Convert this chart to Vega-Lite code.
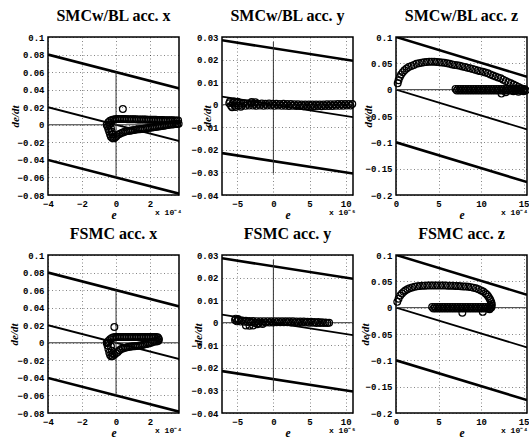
{
"$schema": "https://vega.github.io/schema/vega-lite/v6.json",
"background": "white",
"padding": {"left": 7, "top": 7, "right": 0, "bottom": 0},
"bounds": "flush",
"columns": 3,
"spacing": {"row": 60, "column": 43},
"datasets": {
"l1": [{"k":"b","id":"u","e":-4,"v":0.08},{"k":"b","id":"u","e":4,"v":0.04},{"k":"s","id":"s","e":-4,"v":0.02},{"k":"s","id":"s","e":4,"v":-0.02},{"k":"b","id":"l","e":-4,"v":-0.04},{"k":"b","id":"l","e":4,"v":-0.08},{"k":"a","id":"h","e":-4,"v":0},{"k":"a","id":"h","e":4,"v":0},{"k":"a","id":"vt","e":0,"v":0.06},{"k":"a","id":"vt","e":0,"v":-0.06}],
"l2": [{"k":"b","id":"u","e":-7.1,"v":0.02855},{"k":"b","id":"u","e":11,"v":0.0195},{"k":"s","id":"s","e":-7.1,"v":0.00355},{"k":"s","id":"s","e":11,"v":-0.0055},{"k":"b","id":"l","e":-7.1,"v":-0.02145},{"k":"b","id":"l","e":11,"v":-0.0305},{"k":"a","id":"h","e":-7.1,"v":0},{"k":"a","id":"h","e":11,"v":0},{"k":"a","id":"vt","e":0,"v":0.0278},{"k":"a","id":"vt","e":0,"v":-0.0305}],
"l3": [{"k":"b","id":"u","e":0,"v":0.1},{"k":"b","id":"u","e":15.4,"v":0.0245},{"k":"s","id":"s","e":0,"v":0},{"k":"s","id":"s","e":15.4,"v":-0.0755},{"k":"b","id":"l","e":0,"v":-0.1},{"k":"b","id":"l","e":15.4,"v":-0.1755},{"k":"a","id":"h","e":0,"v":0},{"k":"a","id":"h","e":15.4,"v":0}],
"p1": [{"e":0.4,"v":0.018},
{"e":-0.45,"v":0.003},{"e":-0.35,"v":0.0045},{"e":-0.25,"v":0.0055},{"e":-0.15,"v":0.006},{"e":-0.05,"v":0.0062},{"e":0.05,"v":0.0065},{"e":0.15,"v":0.0066},{"e":0.25,"v":0.0066},{"e":0.35,"v":0.0066},{"e":0.45,"v":0.0065},{"e":0.55,"v":0.0065},{"e":0.65,"v":0.0064},{"e":0.75,"v":0.0064},{"e":0.85,"v":0.0063},{"e":0.95,"v":0.0063},{"e":1.05,"v":0.0062},{"e":1.15,"v":0.0062},{"e":1.25,"v":0.0061},{"e":1.35,"v":0.0061},{"e":1.45,"v":0.006},{"e":1.55,"v":0.006},{"e":1.65,"v":0.0059},{"e":1.75,"v":0.0059},{"e":1.85,"v":0.0058},{"e":1.95,"v":0.0058},{"e":2.05,"v":0.0057},{"e":2.15,"v":0.0057},{"e":2.25,"v":0.0056},{"e":2.35,"v":0.0056},{"e":2.45,"v":0.0055},{"e":2.55,"v":0.0055},{"e":2.65,"v":0.0054},{"e":2.75,"v":0.0054},{"e":2.85,"v":0.0053},{"e":2.95,"v":0.0053},{"e":3.05,"v":0.0052},{"e":3.15,"v":0.0052},{"e":3.25,"v":0.0051},{"e":3.35,"v":0.0051},{"e":3.45,"v":0.005},{"e":3.55,"v":0.005},{"e":3.65,"v":0.005},
{"e":-0.55,"v":0.0},{"e":-0.5,"v":-0.002},{"e":-0.45,"v":-0.005},{"e":-0.4,"v":-0.008},{"e":-0.35,"v":-0.011},{"e":-0.3,"v":-0.0135},{"e":-0.22,"v":-0.0152},{"e":-0.14,"v":-0.0155},{"e":-0.06,"v":-0.0145},{"e":0.02,"v":-0.013},{"e":0.1,"v":-0.0115},{"e":0.2,"v":-0.0105},{"e":0.3,"v":-0.0095},{"e":0.4,"v":-0.0087},{"e":0.5,"v":-0.008},{"e":0.6,"v":-0.0075},{"e":0.7,"v":-0.007},{"e":0.8,"v":-0.0067},{"e":0.9,"v":-0.0064},{"e":1.0,"v":-0.0061},{"e":1.1,"v":-0.0058},{"e":1.2,"v":-0.0055},{"e":1.3,"v":-0.0052},{"e":1.4,"v":-0.005},{"e":1.5,"v":-0.0048},{"e":1.6,"v":-0.0045},{"e":1.7,"v":-0.0043},{"e":1.8,"v":-0.004},{"e":1.9,"v":-0.0038},{"e":2.0,"v":-0.0035},{"e":2.1,"v":-0.0032},{"e":2.2,"v":-0.0029},{"e":2.3,"v":-0.0026},{"e":2.4,"v":-0.0023},{"e":2.5,"v":-0.002},{"e":2.6,"v":-0.0017},{"e":2.7,"v":-0.0013},{"e":2.8,"v":-0.001},{"e":2.9,"v":-0.0007},{"e":3.0,"v":-0.0004},{"e":3.1,"v":-0.0001},{"e":3.2,"v":0.0002},{"e":3.3,"v":0.0004},{"e":3.4,"v":0.0006},{"e":3.5,"v":0.0008},{"e":3.6,"v":0.001},{"e":3.68,"v":0.0012},
{"e":-0.4,"v":0.0},{"e":-0.3,"v":-0.004},{"e":-0.25,"v":-0.008},{"e":-0.2,"v":-0.011},{"e":-0.3,"v":0.002}],
"p4": [{"e":-0.1,"v":0.018},
{"e":-0.45,"v":0.002},{"e":-0.35,"v":0.004},{"e":-0.25,"v":0.0055},{"e":-0.15,"v":0.0062},{"e":-0.05,"v":0.0065},{"e":0.05,"v":0.0066},{"e":0.15,"v":0.0066},{"e":0.25,"v":0.0066},{"e":0.35,"v":0.0066},{"e":0.45,"v":0.0066},{"e":0.55,"v":0.0065},{"e":0.65,"v":0.0065},{"e":0.75,"v":0.0065},{"e":0.85,"v":0.0065},{"e":0.95,"v":0.0065},{"e":1.05,"v":0.0065},{"e":1.15,"v":0.0065},{"e":1.25,"v":0.0065},{"e":1.35,"v":0.0065},{"e":1.45,"v":0.0065},{"e":1.55,"v":0.0065},{"e":1.65,"v":0.0065},{"e":1.75,"v":0.0065},{"e":1.85,"v":0.0065},{"e":1.95,"v":0.0065},{"e":2.05,"v":0.0065},{"e":2.15,"v":0.0065},{"e":2.25,"v":0.0065},{"e":2.35,"v":0.0065},{"e":2.45,"v":0.0063},{"e":2.5,"v":0.005},{"e":2.52,"v":0.0035},{"e":2.47,"v":0.002},{"e":2.38,"v":0.0015},
{"e":-0.55,"v":0.0},{"e":-0.5,"v":-0.003},{"e":-0.45,"v":-0.007},{"e":-0.4,"v":-0.011},{"e":-0.35,"v":-0.014},{"e":-0.28,"v":-0.0155},{"e":-0.2,"v":-0.015},{"e":-0.1,"v":-0.0135},{"e":0.0,"v":-0.012},{"e":0.1,"v":-0.0105},{"e":0.2,"v":-0.0085},{"e":0.3,"v":-0.0072},{"e":0.4,"v":-0.0064},{"e":0.5,"v":-0.0058},{"e":0.6,"v":-0.0053},{"e":0.7,"v":-0.0049},{"e":0.8,"v":-0.0045},{"e":0.9,"v":-0.0042},{"e":1.0,"v":-0.004},{"e":1.1,"v":-0.0039},{"e":1.2,"v":-0.0038},{"e":1.3,"v":-0.0035},{"e":1.4,"v":-0.0031},{"e":1.5,"v":-0.0027},{"e":1.6,"v":-0.0022},{"e":1.7,"v":-0.0018},{"e":1.8,"v":-0.0013},{"e":1.9,"v":-0.0008},{"e":2.0,"v":-0.0003},{"e":2.1,"v":0.0004},{"e":2.2,"v":0.0012},{"e":2.3,"v":0.0018},
{"e":-0.5,"v":0.0},{"e":-0.45,"v":0.0},{"e":-0.3,"v":-0.004},{"e":-0.25,"v":-0.009},{"e":-0.2,"v":-0.012}],
"p2": [{"e":-6.1,"v":0.0006},{"e":-5.85,"v":-0.0005},{"e":-5.6,"v":0.0008},{"e":-5.35,"v":-0.0004},{"e":-5.1,"v":0.0007},{"e":-4.85,"v":-0.0005},{"e":-4.6,"v":0.0006},{"e":-4.35,"v":-0.0004},{"e":-4.1,"v":0.0007},{"e":-3.85,"v":-0.0005},{"e":-3.6,"v":0.0005},{"e":-3.35,"v":-0.0004},{"e":-3.1,"v":0.0006},{"e":-2.85,"v":-0.0004},{"e":-2.6,"v":0.0004},{"e":-2.35,"v":-0.0005},{"e":-2.1,"v":0.0004},{"e":-1.85,"v":-0.0004},{"e":-1.6,"v":0.0005},{"e":-1.35,"v":-0.0005},{"e":-1.1,"v":0.0004},{"e":-0.85,"v":-0.0004},{"e":-0.6,"v":0.0005},{"e":-0.35,"v":-0.0004},{"e":-0.1,"v":0.0004},{"e":0.15,"v":-0.0005},{"e":0.4,"v":0.0004},{"e":0.65,"v":-0.0004},{"e":0.9,"v":0.0003},{"e":1.15,"v":-0.0005},{"e":1.4,"v":0.0004},{"e":1.65,"v":-0.0005},{"e":1.9,"v":0.0003},{"e":2.15,"v":-0.0006},{"e":2.4,"v":0.0003},{"e":2.65,"v":-0.0005},{"e":2.9,"v":0.0002},{"e":3.15,"v":-0.0006},{"e":3.4,"v":0.0002},{"e":3.65,"v":-0.0006},{"e":3.9,"v":0.0001},{"e":4.15,"v":-0.0007},{"e":4.4,"v":0.0001},{"e":4.65,"v":-0.0007},{"e":4.9,"v":0.0001},{"e":5.15,"v":-0.0006},{"e":5.4,"v":0.0001},{"e":5.65,"v":-0.0007},{"e":5.9,"v":0.0001},{"e":6.15,"v":-0.0006},{"e":6.4,"v":0.0001},{"e":6.65,"v":-0.0007},{"e":6.9,"v":0.0001},{"e":7.15,"v":-0.0006},{"e":7.4,"v":0.0002},{"e":7.65,"v":-0.0006},{"e":7.9,"v":0.0002},{"e":8.15,"v":-0.0006},{"e":8.4,"v":0.0002},{"e":8.65,"v":-0.0005},{"e":8.9,"v":0.0003},{"e":9.15,"v":-0.0005},{"e":9.4,"v":0.0003},{"e":9.65,"v":-0.0005},{"e":9.9,"v":0.0003},{"e":10.15,"v":-0.0004},{"e":10.4,"v":0.0003},{"e":10.65,"v":-0.0004},{"e":10.9,"v":0.0003},
{"e":-6.0,"v":0.0014},{"e":-5.7,"v":-0.0011},{"e":-5.45,"v":0.0014},{"e":-5.2,"v":-0.001},{"e":-4.95,"v":0.0013},{"e":-4.5,"v":-0.0009},{"e":-3.0,"v":0.0012},{"e":-2.5,"v":0.0011}],
"p5": [{"e":-5.3,"v":0.0012},{"e":-5.05,"v":0.0006},{"e":-4.8,"v":0.0012},{"e":-4.55,"v":0.0005},{"e":-4.3,"v":0.001},{"e":-4.05,"v":0.0004},{"e":-3.8,"v":0.0009},{"e":-3.55,"v":0.0003},{"e":-3.3,"v":0.0008},{"e":-3.05,"v":0.0002},{"e":-2.8,"v":0.0008},{"e":-2.55,"v":-0.0001},{"e":-2.3,"v":0.0007},{"e":-2.05,"v":-0.0002},{"e":-1.8,"v":0.0006},{"e":-1.55,"v":0.0},{"e":-1.3,"v":0.0007},{"e":-1.05,"v":0.0001},{"e":-0.8,"v":0.0007},{"e":-0.55,"v":0.0001},{"e":-0.3,"v":0.0006},{"e":-0.05,"v":0.0001},{"e":0.2,"v":0.0007},{"e":0.45,"v":0.0002},{"e":0.7,"v":0.0007},{"e":0.95,"v":0.0002},{"e":1.2,"v":0.0007},{"e":1.45,"v":0.0002},{"e":1.7,"v":0.0006},{"e":1.95,"v":0.0002},{"e":2.2,"v":0.0006},{"e":2.45,"v":0.0001},{"e":2.7,"v":0.0006},{"e":2.95,"v":0.0001},{"e":3.2,"v":0.0005},{"e":3.45,"v":0.0001},{"e":3.7,"v":0.0005},{"e":3.95,"v":0.0001},{"e":4.2,"v":0.0005},{"e":4.45,"v":0.0001},{"e":4.7,"v":0.0004},{"e":4.95,"v":0.0},{"e":5.2,"v":0.0004},{"e":5.45,"v":0.0},{"e":5.7,"v":0.0003},{"e":5.95,"v":-0.0001},{"e":6.2,"v":0.0003},{"e":6.45,"v":-0.0001},{"e":6.7,"v":0.0002},{"e":6.95,"v":-0.0001},{"e":7.2,"v":0.0001},{"e":7.45,"v":-0.0001},{"e":7.7,"v":0.0},
{"e":-5.2,"v":0.0018},{"e":-4.9,"v":0.0016},{"e":-3.8,"v":-0.0012},{"e":-3.3,"v":-0.0013},{"e":-2.8,"v":-0.0012},{"e":-2.2,"v":-0.0007},{"e":-1.5,"v":-0.0006}],
"p3": [{"e":0.2,"v":0.012},{"e":0.3,"v":0.018},{"e":0.45,"v":0.024},{"e":0.6,"v":0.029},{"e":0.8,"v":0.033},{"e":1.0,"v":0.037},{"e":1.25,"v":0.04},{"e":1.5,"v":0.043},{"e":1.8,"v":0.045},{"e":2.1,"v":0.047},{"e":2.4,"v":0.049},{"e":2.7,"v":0.05},{"e":3.0,"v":0.051},{"e":3.3,"v":0.052},{"e":3.6,"v":0.0525},{"e":3.9,"v":0.053},{"e":4.2,"v":0.053},{"e":4.5,"v":0.053},{"e":4.8,"v":0.0525},{"e":5.1,"v":0.052},{"e":5.4,"v":0.0515},{"e":5.7,"v":0.051},{"e":6.0,"v":0.05},{"e":6.3,"v":0.049},{"e":6.6,"v":0.048},{"e":6.9,"v":0.047},{"e":7.2,"v":0.0462},{"e":7.5,"v":0.0452},{"e":7.8,"v":0.0442},{"e":8.1,"v":0.043},{"e":8.4,"v":0.0418},{"e":8.7,"v":0.0405},{"e":9.0,"v":0.0392},{"e":9.3,"v":0.038},{"e":9.6,"v":0.0365},{"e":9.9,"v":0.0352},{"e":10.2,"v":0.034},{"e":10.5,"v":0.0325},{"e":10.8,"v":0.031},{"e":11.1,"v":0.029},{"e":11.4,"v":0.027},{"e":11.7,"v":0.025},{"e":12.0,"v":0.0233},{"e":12.3,"v":0.0215},{"e":12.6,"v":0.019},{"e":12.9,"v":0.0165},{"e":13.2,"v":0.0142},{"e":13.5,"v":0.012},{"e":13.8,"v":0.0098},{"e":14.1,"v":0.0075},{"e":14.4,"v":0.005},{"e":14.7,"v":0.0025},{"e":15.0,"v":0.0005},
{"e":7.0,"v":0.0015},{"e":7.15,"v":-0.0015},{"e":7.3,"v":0.0015},{"e":7.45,"v":-0.0015},{"e":7.6,"v":0.0015},{"e":7.75,"v":-0.0015},{"e":7.9,"v":0.0015},{"e":8.05,"v":-0.0015},{"e":8.2,"v":0.0015},{"e":8.35,"v":-0.0015},{"e":8.5,"v":0.0015},{"e":8.65,"v":-0.0015},{"e":8.8,"v":0.0015},{"e":8.95,"v":-0.0015},{"e":9.1,"v":0.0015},{"e":9.25,"v":-0.0015},{"e":9.4,"v":0.0015},{"e":9.55,"v":-0.0015},{"e":9.7,"v":0.0015},{"e":9.85,"v":-0.0015},{"e":10.0,"v":0.0015},{"e":10.15,"v":-0.0015},{"e":10.3,"v":0.0015},{"e":10.45,"v":-0.0015},{"e":10.6,"v":0.0015},{"e":10.75,"v":-0.0015},{"e":10.9,"v":0.0015},{"e":11.05,"v":-0.0015},{"e":11.2,"v":0.0015},{"e":11.35,"v":-0.0015},{"e":11.5,"v":0.0015},{"e":11.65,"v":-0.0015},{"e":11.8,"v":0.0015},{"e":11.95,"v":-0.0015},{"e":12.1,"v":0.0015},{"e":12.25,"v":-0.0015},{"e":12.4,"v":0.0015},{"e":12.55,"v":-0.0015},{"e":12.7,"v":0.0015},{"e":12.85,"v":-0.0015},{"e":13.0,"v":0.0015},{"e":13.15,"v":-0.0015},{"e":13.3,"v":0.0015},{"e":13.45,"v":-0.0015},{"e":13.6,"v":0.0015},{"e":13.75,"v":-0.0015},{"e":13.9,"v":0.0015},{"e":14.05,"v":-0.0015},{"e":14.2,"v":0.0015},{"e":14.35,"v":-0.0015},{"e":14.5,"v":0.0015},{"e":14.65,"v":-0.0015},{"e":14.8,"v":0.0015},{"e":14.95,"v":-0.0015},{"e":15.1,"v":0.0015},{"e":15.25,"v":-0.0015},
{"e":12.4,"v":-0.0075},{"e":12.9,"v":-0.005},{"e":13.8,"v":-0.003},{"e":14.4,"v":-0.004},{"e":15.0,"v":-0.003}],
"p6": [{"e":0.15,"v":0.011},{"e":0.3,"v":0.017},{"e":0.5,"v":0.023},{"e":0.7,"v":0.027},{"e":0.9,"v":0.03},{"e":1.1,"v":0.0325},{"e":1.35,"v":0.035},{"e":1.6,"v":0.037},{"e":1.9,"v":0.0385},{"e":2.2,"v":0.0395},{"e":2.5,"v":0.0405},{"e":2.8,"v":0.041},{"e":3.1,"v":0.0415},{"e":3.4,"v":0.0418},{"e":3.7,"v":0.042},{"e":4.0,"v":0.042},{"e":4.3,"v":0.042},{"e":4.6,"v":0.042},{"e":4.9,"v":0.042},{"e":5.2,"v":0.042},{"e":5.5,"v":0.042},{"e":5.8,"v":0.042},{"e":6.1,"v":0.0418},{"e":6.4,"v":0.0417},{"e":6.7,"v":0.0415},{"e":7.0,"v":0.0413},{"e":7.3,"v":0.041},{"e":7.6,"v":0.0407},{"e":7.9,"v":0.0403},{"e":8.2,"v":0.04},{"e":8.5,"v":0.0395},{"e":8.8,"v":0.039},{"e":9.1,"v":0.038},{"e":9.4,"v":0.0367},{"e":9.7,"v":0.035},{"e":10.0,"v":0.0328},{"e":10.25,"v":0.0305},{"e":10.5,"v":0.0275},{"e":10.7,"v":0.0245},{"e":10.85,"v":0.021},{"e":11.0,"v":0.0175},{"e":11.1,"v":0.014},{"e":11.2,"v":0.0105},{"e":11.25,"v":0.007},{"e":11.25,"v":0.0035},{"e":11.2,"v":0.0005},
{"e":4.25,"v":0.0015},{"e":4.4,"v":-0.0015},{"e":4.55,"v":0.0015},{"e":4.7,"v":-0.0015},{"e":4.85,"v":0.0015},{"e":5.0,"v":-0.0015},{"e":5.15,"v":0.0015},{"e":5.3,"v":-0.0015},{"e":5.45,"v":0.0015},{"e":5.6,"v":-0.0015},{"e":5.75,"v":0.0015},{"e":5.9,"v":-0.0015},{"e":6.05,"v":0.0015},{"e":6.2,"v":-0.0015},{"e":6.35,"v":0.0015},{"e":6.5,"v":-0.0015},{"e":6.65,"v":0.0015},{"e":6.8,"v":-0.0015},{"e":6.95,"v":0.0015},{"e":7.1,"v":-0.0015},{"e":7.25,"v":0.0015},{"e":7.4,"v":-0.0015},{"e":7.55,"v":0.0015},{"e":7.7,"v":-0.0015},{"e":7.85,"v":0.0015},{"e":8.0,"v":-0.0015},{"e":8.15,"v":0.0015},{"e":8.3,"v":-0.0015},{"e":8.45,"v":0.0015},{"e":8.6,"v":-0.0015},{"e":8.75,"v":0.0015},{"e":8.9,"v":-0.0015},{"e":9.05,"v":0.0015},{"e":9.2,"v":-0.0015},{"e":9.35,"v":0.0015},{"e":9.5,"v":-0.0015},{"e":9.65,"v":0.0015},{"e":9.8,"v":-0.0015},{"e":9.95,"v":0.0015},{"e":10.1,"v":-0.0015},{"e":10.25,"v":0.0015},{"e":10.4,"v":-0.0015},{"e":10.55,"v":0.0015},{"e":10.7,"v":-0.0015},{"e":10.85,"v":0.0015},{"e":11.0,"v":-0.0015},{"e":11.15,"v":0.0015},
{"e":10.2,"v":-0.008},{"e":7.8,"v":-0.0096},{"e":11.0,"v":-0.003}]
},
"concat": [
{"width":131,"height":158,"title":"SMCw/BL acc. x","layer":[
 {"data":{"name":"l1"},"mark":{"type":"line","clip":true},"encoding":{
  "x":{"field":"e","type":"quantitative","scale":{"domain":[-4,3.7],"nice":false,"zero":false},"axis":{"values":[-4,-2,0,2],"tickCount":30,"format":"~r","labelOverlap":false,"title":"e"}},
  "y":{"field":"v","type":"quantitative","scale":{"domain":[-0.08,0.1],"nice":false,"zero":false},"axis":{"values":[-0.08,-0.06,-0.04,-0.02,0,0.02,0.04,0.06,0.08,0.1],"tickCount":30,"format":"~r","labelOverlap":false,"title":"de/dt","titleX":-33,"titleY":79}},
  "detail":{"field":"id"},
  "strokeWidth":{"field":"k","type":"ordinal","scale":{"domain":["b","s","a"],"range":[2.6,1,1.2]},"legend":null},
  "color":{"field":"k","type":"nominal","scale":{"domain":["b","s","a"],"range":["#000000","#000000","#333333"]},"legend":null}}},
 {"data":{"name":"p1"},"mark":{"type":"point","shape":"circle","filled":false,"color":"#000","size":46,"strokeWidth":1.2,"opacity":1},"encoding":{"x":{"field":"e","type":"quantitative"},"y":{"field":"v","type":"quantitative"}}},
 {"data":{"values":[{}]},"mark":{"type":"text","align":"right","baseline":"middle","dx":3,"dy":18,"font":"Liberation Mono","fontWeight":"bold","fontSize":8,"color":"#000"},"encoding":{"x":{"datum":3.7},"y":{"datum":-0.08},"text":{"value":"x 10⁻⁴"}}}
]},
{"width":131,"height":158,"title":"SMCw/BL acc. y","layer":[
 {"data":{"name":"l2"},"mark":{"type":"line","clip":true},"encoding":{
  "x":{"field":"e","type":"quantitative","scale":{"domain":[-7.1,11],"nice":false,"zero":false},"axis":{"values":[-5,0,5,10],"tickCount":30,"format":"~r","labelOverlap":false,"title":"e"}},
  "y":{"field":"v","type":"quantitative","scale":{"domain":[-0.04,0.03],"nice":false,"zero":false},"axis":{"values":[-0.04,-0.03,-0.02,-0.01,0,0.01,0.02,0.03],"tickCount":30,"format":"~r","labelOverlap":false,"title":"de/dt","titleX":-15,"titleY":79}},
  "detail":{"field":"id"},
  "strokeWidth":{"field":"k","type":"ordinal","scale":{"domain":["b","s","a"],"range":[2.6,1,1.2]},"legend":null},
  "color":{"field":"k","type":"nominal","scale":{"domain":["b","s","a"],"range":["#000000","#000000","#555555"]},"legend":null}}},
 {"data":{"name":"p2"},"mark":{"type":"point","shape":"circle","filled":false,"color":"#000","size":46,"strokeWidth":1.2,"opacity":1},"encoding":{"x":{"field":"e","type":"quantitative"},"y":{"field":"v","type":"quantitative"}}},
 {"data":{"values":[{}]},"mark":{"type":"text","align":"right","baseline":"middle","dx":3,"dy":18,"font":"Liberation Mono","fontWeight":"bold","fontSize":8,"color":"#000"},"encoding":{"x":{"datum":11},"y":{"datum":-0.04},"text":{"value":"x 10⁻⁵"}}}
]},
{"width":131,"height":158,"title":"SMCw/BL acc. z","layer":[
 {"data":{"name":"l3"},"mark":{"type":"line","clip":true},"encoding":{
  "x":{"field":"e","type":"quantitative","scale":{"domain":[0,15.4],"nice":false,"zero":false},"axis":{"values":[0,5,10,15],"tickCount":30,"format":"~r","labelOverlap":false,"title":"e"}},
  "y":{"field":"v","type":"quantitative","scale":{"domain":[-0.2,0.1],"nice":false,"zero":false},"axis":{"values":[-0.2,-0.15,-0.1,-0.05,0,0.05,0.1],"tickCount":30,"format":"~r","labelOverlap":false,"title":"de/dt","titleX":-28,"titleY":79}},
  "detail":{"field":"id"},
  "strokeWidth":{"field":"k","type":"ordinal","scale":{"domain":["b","s","a"],"range":[2.6,1,1.2]},"legend":null},
  "color":{"field":"k","type":"nominal","scale":{"domain":["b","s","a"],"range":["#000000","#000000","#222222"]},"legend":null}}},
 {"data":{"name":"p3"},"mark":{"type":"point","shape":"circle","filled":false,"color":"#000","size":46,"strokeWidth":1.2,"opacity":1},"encoding":{"x":{"field":"e","type":"quantitative"},"y":{"field":"v","type":"quantitative"}}},
 {"data":{"values":[{}]},"mark":{"type":"text","align":"right","baseline":"middle","dx":1,"dy":18,"font":"Liberation Mono","fontWeight":"bold","fontSize":8,"color":"#000"},"encoding":{"x":{"datum":15.4},"y":{"datum":-0.2},"text":{"value":"x 10⁻⁴"}}}
]},
{"width":131,"height":158,"title":"FSMC acc. x","layer":[
 {"data":{"name":"l1"},"mark":{"type":"line","clip":true},"encoding":{
  "x":{"field":"e","type":"quantitative","scale":{"domain":[-4,3.7],"nice":false,"zero":false},"axis":{"values":[-4,-2,0,2],"tickCount":30,"format":"~r","labelOverlap":false,"title":"e"}},
  "y":{"field":"v","type":"quantitative","scale":{"domain":[-0.08,0.1],"nice":false,"zero":false},"axis":{"values":[-0.08,-0.06,-0.04,-0.02,0,0.02,0.04,0.06,0.08,0.1],"tickCount":30,"format":"~r","labelOverlap":false,"title":"de/dt","titleX":-34,"titleY":79}},
  "detail":{"field":"id"},
  "strokeWidth":{"field":"k","type":"ordinal","scale":{"domain":["b","s","a"],"range":[2.6,1,1.2]},"legend":null},
  "color":{"field":"k","type":"nominal","scale":{"domain":["b","s","a"],"range":["#000000","#000000","#333333"]},"legend":null}}},
 {"data":{"name":"p4"},"mark":{"type":"point","shape":"circle","filled":false,"color":"#000","size":46,"strokeWidth":1.2,"opacity":1},"encoding":{"x":{"field":"e","type":"quantitative"},"y":{"field":"v","type":"quantitative"}}},
 {"data":{"values":[{}]},"mark":{"type":"text","align":"right","baseline":"middle","dx":3,"dy":18,"font":"Liberation Mono","fontWeight":"bold","fontSize":8,"color":"#000"},"encoding":{"x":{"datum":3.7},"y":{"datum":-0.08},"text":{"value":"x 10⁻⁴"}}}
]},
{"width":131,"height":158,"title":"FSMC acc. y","layer":[
 {"data":{"name":"l2"},"mark":{"type":"line","clip":true},"encoding":{
  "x":{"field":"e","type":"quantitative","scale":{"domain":[-7.1,11],"nice":false,"zero":false},"axis":{"values":[-5,0,5,10],"tickCount":30,"format":"~r","labelOverlap":false,"title":"e"}},
  "y":{"field":"v","type":"quantitative","scale":{"domain":[-0.04,0.03],"nice":false,"zero":false},"axis":{"values":[-0.04,-0.03,-0.02,-0.01,0,0.01,0.02,0.03],"tickCount":30,"format":"~r","labelOverlap":false,"title":"de/dt","titleX":-24,"titleY":79}},
  "detail":{"field":"id"},
  "strokeWidth":{"field":"k","type":"ordinal","scale":{"domain":["b","s","a"],"range":[2.6,1,1.2]},"legend":null},
  "color":{"field":"k","type":"nominal","scale":{"domain":["b","s","a"],"range":["#000000","#000000","#555555"]},"legend":null}}},
 {"data":{"name":"p5"},"mark":{"type":"point","shape":"circle","filled":false,"color":"#000","size":46,"strokeWidth":1.2,"opacity":1},"encoding":{"x":{"field":"e","type":"quantitative"},"y":{"field":"v","type":"quantitative"}}},
 {"data":{"values":[{}]},"mark":{"type":"text","align":"right","baseline":"middle","dx":3,"dy":18,"font":"Liberation Mono","fontWeight":"bold","fontSize":8,"color":"#000"},"encoding":{"x":{"datum":11},"y":{"datum":-0.04},"text":{"value":"x 10⁻⁵"}}}
]},
{"width":131,"height":158,"title":"FSMC acc. z","layer":[
 {"data":{"name":"l3"},"mark":{"type":"line","clip":true},"encoding":{
  "x":{"field":"e","type":"quantitative","scale":{"domain":[0,15.4],"nice":false,"zero":false},"axis":{"values":[0,5,10,15],"tickCount":30,"format":"~r","labelOverlap":false,"title":"e"}},
  "y":{"field":"v","type":"quantitative","scale":{"domain":[-0.2,0.1],"nice":false,"zero":false},"axis":{"values":[-0.2,-0.15,-0.1,-0.05,0,0.05,0.1],"tickCount":30,"format":"~r","labelOverlap":false,"title":"de/dt","titleX":-31,"titleY":79}},
  "detail":{"field":"id"},
  "strokeWidth":{"field":"k","type":"ordinal","scale":{"domain":["b","s","a"],"range":[2.6,1,1.2]},"legend":null},
  "color":{"field":"k","type":"nominal","scale":{"domain":["b","s","a"],"range":["#000000","#000000","#666666"]},"legend":null}}},
 {"data":{"name":"p6"},"mark":{"type":"point","shape":"circle","filled":false,"color":"#000","size":46,"strokeWidth":1.2,"opacity":1},"encoding":{"x":{"field":"e","type":"quantitative"},"y":{"field":"v","type":"quantitative"}}},
 {"data":{"values":[{}]},"mark":{"type":"text","align":"right","baseline":"middle","dx":1,"dy":18,"font":"Liberation Mono","fontWeight":"bold","fontSize":8,"color":"#000"},"encoding":{"x":{"datum":15.4},"y":{"datum":-0.2},"text":{"value":"x 10⁻⁴"}}}
]}
],
"config": {
 "view": {"stroke": "#000", "strokeWidth": 1.5},
 "axis": {"grid": true, "gridColor": "#000", "gridDash": [1, 2.5], "gridOpacity": 0.6, "gridWidth": 0.8, "domain": false, "ticks": false, "labelFont": "Liberation Mono", "labelFontWeight": "bold", "labelFontSize": 9, "labelColor": "#000", "labelPadding": 4, "labelFlush": false, "labelOverlap": false, "titleFont": "Liberation Serif", "titleFontStyle": "italic", "titleFontWeight": "bold", "titleFontSize": 11, "titleColor": "#000"},
 "axisY": {"titleBaseline": "middle"},
 "axisX": {"titlePadding": 1, "titleFontSize": 11.5},
 "title": {"font": "Liberation Serif", "fontSize": 16, "fontWeight": "bold", "color": "#000", "offset": 9, "anchor": "middle"}
}
}
